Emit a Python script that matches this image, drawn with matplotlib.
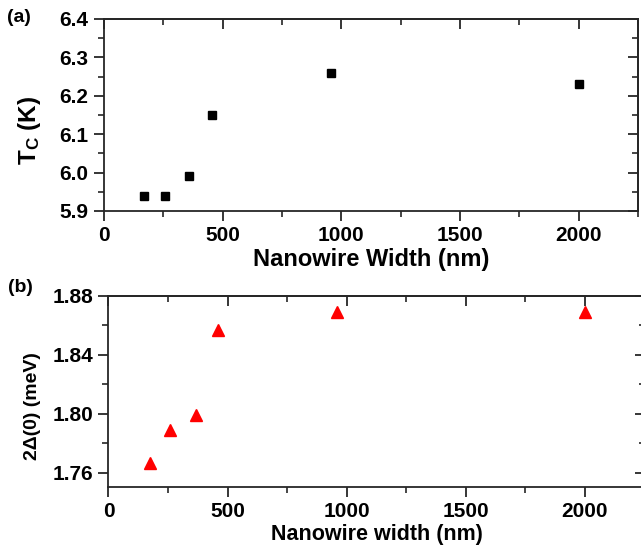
import matplotlib
matplotlib.use("Agg")
import matplotlib.pyplot as plt
from matplotlib.ticker import MultipleLocator

plt.rcParams['font.family'] = ['Liberation Sans', 'DejaVu Sans']
plt.rcParams['font.weight'] = 'bold'
plt.rcParams['mathtext.fontset'] = 'custom'
plt.rcParams['mathtext.rm'] = 'Liberation Sans:bold'
plt.rcParams['mathtext.bf'] = 'Liberation Sans:bold'

# Panel (a) data
width_a = [170, 255, 360, 455, 955, 2000]
tc = [5.94, 5.94, 5.99, 6.15, 6.26, 6.23]

# Panel (b) data
width_b = [175, 258, 366, 458, 958, 2002]
gap = [1.767, 1.789, 1.799, 1.857, 1.869, 1.869]

fig = plt.figure(figsize=(6.41, 5.47), dpi=100)
spc = '#262626'

def style(ax, xmaj, xmin, ymaj, ymin):
    for s in ax.spines.values():
        s.set_linewidth(1.3)
        s.set_color(spc)
    ax.xaxis.set_major_locator(MultipleLocator(xmaj))
    ax.xaxis.set_minor_locator(MultipleLocator(xmin))
    ax.yaxis.set_major_locator(MultipleLocator(ymaj))
    ax.yaxis.set_minor_locator(MultipleLocator(ymin))
    ax.tick_params(which='major', direction='out', length=7, width=1.3, color=spc, labelsize=15, pad=4)
    ax.tick_params(which='minor', direction='out', length=4, width=1.2, color=spc)
    for lab in ax.get_xticklabels() + ax.get_yticklabels():
        lab.set_fontweight('bold')
    top = ax.secondary_xaxis('top')
    top.xaxis.set_major_locator(MultipleLocator(xmaj))
    top.xaxis.set_minor_locator(MultipleLocator(xmin))
    top.tick_params(which='major', direction='in', length=7, width=1.3, color=spc, labeltop=False)
    top.tick_params(which='minor', direction='in', length=4, width=1.2, color=spc)
    top.spines['top'].set_linewidth(1.3)
    top.spines['top'].set_color(spc)
    right = ax.secondary_yaxis('right')
    right.yaxis.set_major_locator(MultipleLocator(ymaj))
    right.yaxis.set_minor_locator(MultipleLocator(ymin))
    right.tick_params(which='major', direction='in', length=7, width=1.3, color=spc, labelright=False)
    right.tick_params(which='minor', direction='in', length=4, width=1.2, color=spc)
    right.spines['right'].set_linewidth(1.3)
    right.spines['right'].set_color(spc)

# Panel (a)
axa = fig.add_axes([104/641, (547-211)/547, 534/641, 192/547])
axa.plot(width_a, tc, linestyle='none', marker='s', ms=6, color='black')
axa.set_xlim(0, 2250)
axa.set_ylim(5.9, 6.4)
style(axa, 500, 250, 0.1, 0.05)
axa.set_xlabel('Nanowire Width (nm)', fontsize=17, fontweight='bold', labelpad=2)
axa.set_ylabel(r'$\mathrm{T_C}$ (K)', fontsize=17.5, fontweight='bold')
axa.yaxis.set_label_coords((43 - 104) / 534, (211 - 130) / 192)
fig.text(7/641, 1 - 18/547, '(a)', fontsize=14, fontweight='bold', va='center', ha='left')

# Panel (b)
axb = fig.add_axes([108.5/641, (547-487)/547, 536/641, 191/547])
axb.plot(width_b, gap, linestyle='none', marker='^', ms=8, color='#ff0000')
axb.set_xlim(0, 2250)
axb.set_ylim(1.7505, 1.88)
style(axb, 500, 250, 0.04, 0.02)
axb.set_xlabel('Nanowire width (nm)', fontsize=15.5, fontweight='bold', labelpad=2)
axb.set_ylabel('2\u0394(0) (meV)', fontsize=14, fontweight='bold')
axb.yaxis.set_label_coords((41 - 108.5) / 536, (487 - 406) / 191)
fig.text(8/641, 1 - 288/547, '(b)', fontsize=14, fontweight='bold', va='center', ha='left')

fig.savefig('out.png', dpi=100)
